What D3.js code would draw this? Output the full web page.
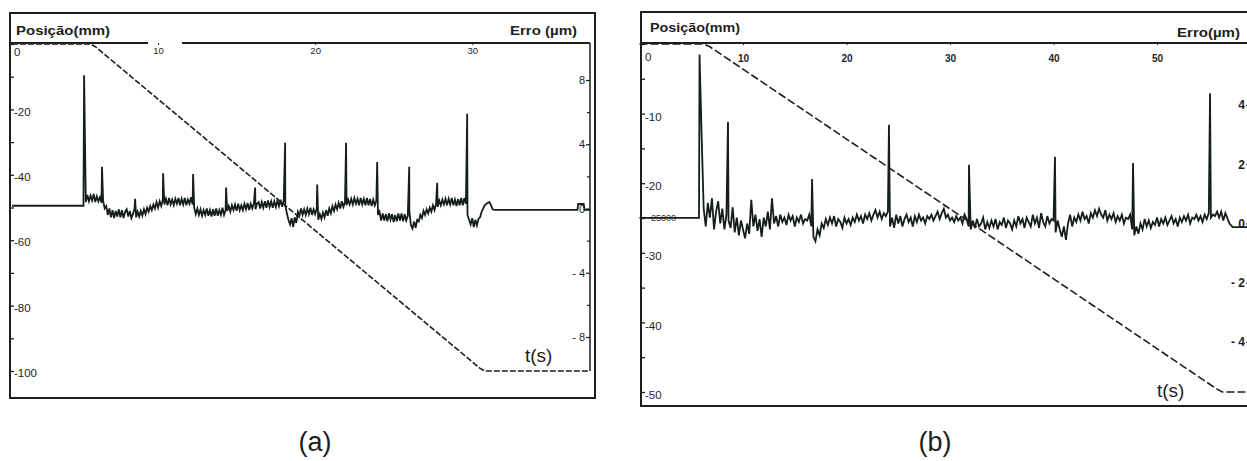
<!DOCTYPE html>
<html>
<head>
<meta charset="utf-8">
<script src="https://cdn.jsdelivr.net/npm/d3@7"></script>
<style>
  body { margin: 0; background: #fff; }
  svg { display: block; font-family: "Liberation Sans", Arial, sans-serif; }
</style>
</head>
<body>
<svg id="chart" width="1247" height="461"></svg>
<script>
// ---------- (a) position, mm
const posA_t  = [0.7, 5.7, 6.0, 30.5, 30.8, 37.5];
const posA_mm = [0, 0, -0.8, -99.2, -100, -100];

// ---------- (a) error, um : before / after the move
const errA_pre  = [[0.7, 0.17], [5.25, 0.17]];
const errA_post = [[31.4, -0.09], [36.7, -0.09], [36.75, 0.28], [37.1, 0.28], [37.15, -0.09], [37.5, -0.09]];
// sampled every 0.1 s from 5.4 s
const errA_start = 5.4, errA_step = 0.1;
const errA = [
  0.4, 0.85, 0.45, 0.8, 0.5, 0.9, 0.4, 0.75, 0.45, 0.7,
  0.35, 0.5, 0.0, 0.15, -0.4, 0.0, -0.55, -0.1, -0.6, -0.15,
  -0.5, -0.05, -0.55, -0.1, -0.6, -0.2, -0.05, -0.5, -0.15, -0.6,
  -0.35, 0.0, -0.55, -0.2, -0.5, -0.15, -0.45, -0.05, -0.35, 0.05,
  -0.2, 0.15, -0.1, 0.25, 0.0, 0.4, 0.05, 0.45, 0.15, 0.55,
  0.25, 0.6, 0.2, 0.65, 0.25, 0.55, 0.2, 0.6, 0.3, 0.65,
  0.2, 0.6, 0.25, 0.65, 0.2, 0.55, 0.3, 0.7, 0.25, 0.05,
  -0.35, 0.0, -0.4, -0.05, -0.45, -0.1, -0.4, 0.0, -0.45, -0.1,
  -0.5, -0.05, -0.45, 0.0, -0.45, -0.1, -0.4, 0.05, -0.4, -0.1,
  -0.15, 0.15, -0.2, 0.2, -0.1, 0.25, -0.15, 0.3, -0.1, 0.2,
  -0.1, 0.3, -0.05, 0.35, -0.1, 0.3, 0.0, 0.35, -0.05, 0.3,
  0.4, 0.0, 0.4, 0.05, 0.45, 0.05, 0.5, 0.1, 0.45, 0.05,
  0.45, 0.1, 0.5, 0.15, 0.55, 0.1, 0.5, 0.2, -0.3, -0.7,
  -1.0, -0.6, -1.15, -0.55, -0.9, -0.2, -0.45, 0.0, -0.4, -0.05,
  -0.4, 0.0, -0.35, 0.05, -0.4, -0.05, -0.35, 0.0, -0.7, -0.35,
  -0.65, -0.25, -0.55, -0.1, -0.45, 0.0, -0.3, 0.15, -0.15, 0.25,
  -0.05, 0.35, 0.0, 0.45, 0.1, 0.4, 0.2, 0.55, 0.25, 0.6,
  0.25, 0.65, 0.3, 0.6, 0.2, 0.65, 0.25, 0.6, 0.2, 0.65,
  0.2, 0.6, 0.15, 0.55, 0.2, 0.5, -0.4, -0.2, -0.75, -0.3,
  -0.75, -0.35, -0.8, -0.3, -0.7, -0.35, -0.85, -0.4, -0.8, -0.3,
  -0.75, -0.3, -0.8, -0.35, -0.75, -0.45, -0.2, -1.05, -1.25, -0.8,
  -1.2, -0.7, -0.8, -0.4, -0.6, -0.15, -0.4, -0.05, -0.3, 0.05,
  -0.2, 0.2, -0.1, 0.3, 0.1, 0.5, 0.2, 0.55, 0.25, 0.6,
  0.2, 0.6, 0.25, 0.65, 0.2, 0.55, 0.15, 0.6, 0.2, 0.65,
  0.2, 0.65, 0.3, -0.4, -0.7, -1.0, -0.6, -1.15, -0.7, -1.05,
  -0.65, -0.55, -0.2, 0.0, 0.2, 0.3, 0.35, 0.4, 0.2, -0.05
];
const spikeA_t = [5.29, 6.43, 8.54, 10.32, 12.23, 14.33, 16.18, 18.09, 20.13, 21.97, 23.95, 25.99, 27.77, 29.68];
const spikeA_e = [8.3, 2.6, 0.6, 2.2, 2.15, 1.3, 1.3, 4.1, 1.5, 4.1, 2.9, 2.6, 1.6, 5.9];

// ---------- (b) position, mm
const posB_t  = [0, 6.2, 6.8, 55.6, 56.3, 59];
const posB_mm = [0, 0, -0.4, -49.4, -50, -50];

// ---------- (b) error, um
const errB_pre  = [[0, 0.19], [5.75, 0.19]];
const errB_post = [[56.6, 0.35], [57.0, 0.0], [57.3, -0.12], [59, -0.12]];
// sampled every 0.2 s from 6.2 s
const errB_start = 6.2, errB_step = 0.2;
const errB = [
  0.5, -0.1, 0.7, 0.2, 0.85, -0.2, 0.4, 0.75, 0.0, 0.5,
  -0.2, 0.3, 0.1, -0.15, 0.55, -0.3, 0.2, -0.4, 0.1, -0.2,
  -0.5, 0.0, -0.35, 0.8, -0.1, 0.3, -0.25, 0.15, -0.45, 0.2,
  -0.1, 0.4, -0.2, 0.85, 0.0, 0.25, -0.1, 0.3, 0.05, 0.2,
  -0.05, 0.3, 0.1, 0.25, -0.1, 0.2, 0.05, 0.3, 0.0, 0.15,
  0.1, 0.3, -0.1, -0.45, -0.6, -0.2, -0.4, 0.0, -0.15, 0.15,
  -0.05, 0.2, 0.0, 0.25, -0.1, 0.15, 0.05, -0.15, 0.2, 0.0,
  0.15, -0.05, 0.2, 0.05, 0.3, 0.1, 0.25, 0.0, 0.3, 0.15,
  0.35, 0.1, 0.3, 0.45, 0.2, 0.4, 0.15, 0.35, 0.25, 0.4,
  -0.1, 0.2, -0.15, 0.3, 0.0, 0.25, -0.1, 0.15, 0.3, 0.05,
  0.2, -0.1, 0.25, 0.05, 0.3, 0.1, 0.2, 0.0, 0.25, 0.15,
  0.3, 0.1, 0.25, 0.4, 0.15, 0.35, 0.5, 0.2, 0.3, 0.1,
  0.2, 0.05, 0.25, 0.1, 0.2, 0.0, 0.3, 0.15, -0.1, -0.2,
  0.1, -0.15, 0.15, -0.1, 0.0, 0.2, -0.2, 0.05, -0.15, 0.1,
  -0.1, 0.15, -0.2, 0.05, -0.05, 0.2, -0.15, 0.1, 0.0, -0.2,
  0.1, -0.1, 0.25, 0.0, 0.15, -0.15, 0.2, 0.05, -0.1, 0.3,
  0.0, 0.2, -0.15, 0.35, 0.05, -0.1, 0.25, 0.0, 0.15, 0.1,
  -0.3, 0.1, -0.2, -0.45, -0.1, -0.55, 0.0, 0.3, -0.1, 0.2,
  0.05, 0.3, 0.1, 0.4, 0.15, 0.25, 0.0, 0.35, 0.2, 0.45,
  0.25, 0.5, 0.3, 0.2, 0.45, 0.1, 0.3, 0.15, 0.35, 0.05,
  0.25, 0.1, 0.3, 0.0, 0.2, 0.15, 0.3, -0.2, -0.4, -0.1,
  -0.35, 0.0, -0.2, 0.15, -0.1, 0.1, -0.15, 0.05, -0.05, 0.2,
  -0.1, 0.15, 0.0, 0.2, -0.05, 0.1, 0.25, 0.0, 0.15, -0.1,
  0.2, 0.05, 0.25, 0.1, 0.3, 0.0, 0.2, 0.15, 0.3, 0.1,
  0.25, 0.05, 0.3, 0.15, 0.35, 0.2, 0.3, 0.25, 0.4, 0.2,
  0.4, 0.1
];
const spikeB_t = [5.8, 6.0, 8.55, 16.67, 24.1, 31.83, 40.14, 47.68, 55.12];
const spikeB_e = [5.7, 3.0, 3.43, 1.5, 3.33, 1.98, 2.25, 2.04, 4.4];

// ---------- tick labels
const tTicksA = [10, 20, 30];
const posTicksA = [0, -20, -40, -60, -80, -100];
const posMinorA = [-10, -30, -50, -70, -90];
const errTicksA = [8, 4, 0, -4, -8];
const errMinorA = [6, 2, -2, -6];

const tTicksB = [10, 20, 30, 40, 50];
const posTicksB = [0, -10, -20, -30, -40, -50];
const posMinorB = [-5, -15, -25, -35, -45];
const errTicksB = [4, 2, 0, -2, -4];

const ink = "#1e1e1e";
const trace = "#161e19";
const svg = d3.select("#chart");

function panel(p) {
    const g = svg.append("g");
    const x = d3.scaleLinear().domain(p.tDomain).range(p.tRange);
    const yPos = d3.scaleLinear().domain(p.posDomain).range(p.posRange);
    const yErr = d3.scaleLinear().domain(p.errDomain).range(p.errRange);

    // frame and header row
    g.append("rect")
        .attr("x", p.frame[0]).attr("y", p.frame[1])
        .attr("width", p.frame[2] - p.frame[0]).attr("height", p.frame[3] - p.frame[1])
        .attr("fill", "none").attr("stroke", ink).attr("stroke-width", 2);
    p.divider.forEach(s => {
        g.append("line").attr("x1", s[0]).attr("x2", s[1]).attr("y1", p.top).attr("y2", p.top)
            .attr("stroke", ink).attr("stroke-width", 2);
    });
    if (p.innerRight) {
        g.append("line").attr("x1", p.errAxisX).attr("x2", p.errAxisX)
            .attr("y1", p.top).attr("y2", yPos(p.posDomain[1]))
            .attr("stroke", ink).attr("stroke-width", 1.5);
    }

    g.append("text").attr("x", p.posTitle[0]).attr("y", p.posTitle[1])
        .attr("font-size", 13).attr("font-weight", "bold").attr("fill", ink)
        .attr("textLength", p.posTitle[2]).attr("lengthAdjust", "spacingAndGlyphs")
        .text("Posição(mm)");
    g.append("text").attr("x", p.errTitle[0]).attr("y", p.errTitle[1])
        .attr("font-size", 13).attr("font-weight", "bold").attr("fill", ink)
        .attr("textLength", p.errTitle[2]).attr("lengthAdjust", "spacingAndGlyphs")
        .text(p.errTitle[3]);

    // time axis along the header line
    const tAx = g.append("g").attr("transform", `translate(0,${p.top})`)
        .call(d3.axisBottom(x).tickValues(p.tTicks).tickSize(2).tickPadding(p.tPad));
    tAx.select(".domain").remove();
    tAx.selectAll("line").attr("stroke", ink);
    tAx.selectAll("text").attr("font-size", p.tFont).attr("font-weight", p.tWeight)
        .attr("font-family", "Liberation Sans, Arial, sans-serif").attr("fill", ink);

    // position axis (left, labels inside)
    const pAx = g.append("g").attr("transform", `translate(${p.frame[0] + 1},0)`)
        .call(d3.axisRight(yPos).tickValues(p.posTicks).tickSize(3).tickPadding(0)
            .tickFormat(d => d === 0 ? "0" : String(d)));
    pAx.select(".domain").remove();
    pAx.selectAll("line").attr("stroke", ink).attr("stroke-width", 1.3);
    pAx.selectAll("text").attr("font-size", 11.5).attr("fill", ink)
        .attr("font-family", "Liberation Sans, Arial, sans-serif")
        .attr("y", d => d === 0 ? p.zeroShift : p.labShift);
    const pMin = g.append("g").attr("transform", `translate(${p.frame[0] + 1},0)`)
        .call(d3.axisRight(yPos).tickValues(p.posMinor).tickSize(3).tickFormat(""));
    pMin.select(".domain").remove();
    pMin.selectAll("line").attr("stroke", ink).attr("stroke-width", 1.3);

    // error axis (right, labels inside)
    const eAx = g.append("g").attr("transform", `translate(${p.errAxisX},0)`)
        .call(d3.axisLeft(yErr).tickValues(p.errTicks).tickSize(4).tickPadding(1)
            .tickFormat(d => d < 0 ? "- " + (-d) : String(d)));
    eAx.select(".domain").remove();
    eAx.selectAll("line").attr("stroke", ink).attr("stroke-width", 1.2);
    eAx.selectAll("text").attr("font-size", p.errFont).attr("font-weight", p.errWeight)
        .attr("font-family", "Liberation Sans, Arial, sans-serif").attr("fill", ink);
    if (p.errMinor) {
        const eMin = g.append("g").attr("transform", `translate(${p.errAxisX},0)`)
            .call(d3.axisLeft(yErr).tickValues(p.errMinor).tickSize(3).tickFormat(""));
        eMin.select(".domain").remove();
        eMin.selectAll("line").attr("stroke", ink).attr("stroke-width", 1.2);
    }

    if (p.extraLabel) {
        g.append("text").attr("x", p.extraLabel[0]).attr("y", p.extraLabel[1])
            .attr("font-size", 9).attr("fill", "#3a3030").text(p.extraLabel[2]);
    }

    // error trace
    const noise = p.errVals.map((v, i) => [p.errStart + i * p.errStep, v]);
    const spikes = p.spikeT.map((t, i) => [t, p.spikeE[i]]);
    const pts = p.errPre.concat(spikes, noise, p.errPost).sort((a, b) => a[0] - b[0]);
    g.append("path").datum(pts)
        .attr("d", d3.line().x(d => x(d[0])).y(d => yErr(d[1])))
        .attr("fill", "none").attr("stroke", trace).attr("stroke-width", p.traceWidth)
        .attr("stroke-linejoin", "miter");

    // position trace (dashed)
    const pos = p.posT.map((t, i) => [t, p.posMm[i]]);
    g.append("path").datum(pos)
        .attr("d", d3.line().x(d => x(d[0])).y(d => yPos(d[1])))
        .attr("fill", "none").attr("stroke", ink).attr("stroke-width", 1.6)
        .attr("stroke-dasharray", p.dash);

    g.append("text").attr("x", p.tLabel[0]).attr("y", p.tLabel[1])
        .attr("font-size", 19).attr("fill", ink).text("t(s)");
    g.append("text").attr("x", p.caption[0]).attr("y", p.caption[1])
        .attr("text-anchor", "middle").attr("font-size", 27).attr("fill", ink).text(p.caption[2]);
}

panel({
    frame: [10, 13, 595, 398], top: 43,
    divider: [[10, 148], [182, 590]], innerRight: true, errAxisX: 590,
    tDomain: [0.7, 37.5], tRange: [12, 590],
    posDomain: [0, -100], posRange: [44, 371],
    errDomain: [8, -8], errRange: [80, 337],
    tTicks: tTicksA, tPad: 2, tFont: 9.5, tWeight: "normal",
    posTicks: posTicksA, posMinor: posMinorA, labShift: 2, zeroShift: 8,
    errTicks: errTicksA, errMinor: errMinorA, errFont: 11, errWeight: "normal",
    posTitle: [16, 35, 94], errTitle: [510, 35, 67, "Erro (µm)"],
    posT: posA_t, posMm: posA_mm, dash: "6,2",
    errPre: errA_pre, errPost: errA_post, errStart: errA_start, errStep: errA_step, errVals: errA,
    spikeT: spikeA_t, spikeE: spikeA_e, traceWidth: 1.8,
    tLabel: [525, 362], caption: [315, 451, "(a)"]
});

panel({
    frame: [641, 12, 1264, 406], top: 43,
    divider: [[641, 1264]], innerRight: false, errAxisX: 1250,
    tDomain: [0, 59], tRange: [639.5, 1250.2],
    posDomain: [0, -50], posRange: [44, 392],
    errDomain: [4, -4], errRange: [105, 342],
    tTicks: tTicksB, tPad: 10, tFont: 10, tWeight: "bold",
    posTicks: posTicksB, posMinor: posMinorB, labShift: 3, zeroShift: 13,
    errTicks: errTicksB, errMinor: null, errFont: 12, errWeight: "bold",
    posTitle: [650, 32, 90], errTitle: [1177, 37, 63, "Erro(µm)"],
    extraLabel: [648, 221, "-25000"],
    posT: posB_t, posMm: posB_mm, dash: "8,3",
    errPre: errB_pre, errPost: errB_post, errStart: errB_start, errStep: errB_step, errVals: errB,
    spikeT: spikeB_t, spikeE: spikeB_e, traceWidth: 1.8,
    tLabel: [1157, 397], caption: [935, 451, "(b)"]
});
</script>
</body>
</html>
